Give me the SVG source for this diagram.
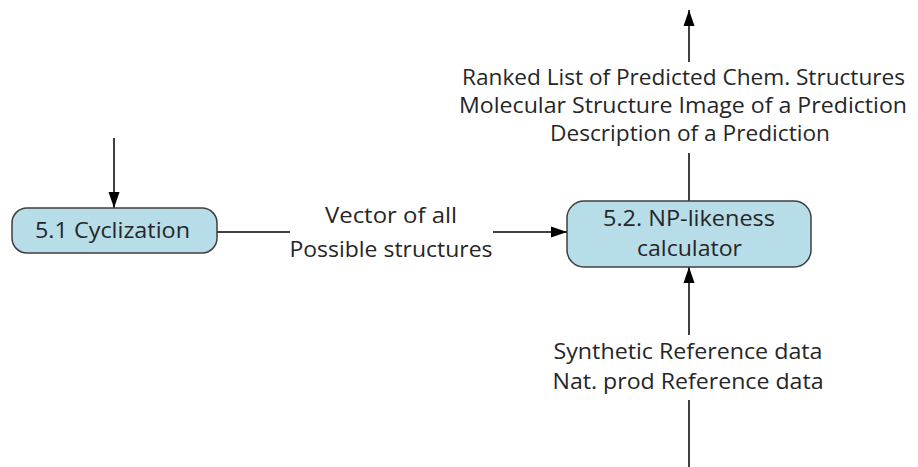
<svg xmlns="http://www.w3.org/2000/svg" width="918" height="467" viewBox="0 0 918 467">
<style>
.node{fill:#b7dde8;stroke:#3f3f3f;stroke-width:1.5}
.t{font-family:"Open Sans","Liberation Sans",Arial,sans-serif;font-size:22px;fill:#262626;text-anchor:middle}
.c{stroke:#000;stroke-width:1.5;fill:none;marker-end:url(#ah)}
.bg{fill:#fff}
</style>
<defs>
<marker id="ah" markerUnits="userSpaceOnUse" markerWidth="16" markerHeight="12" refX="16" refY="6" orient="auto" viewBox="0 0 16 12">
<path d="M0,0.5 L16,6 L0,11.5 z" fill="#000"/>
</marker>
</defs>
<g id="connectors">
<line class="c" x1="114" y1="138" x2="114" y2="208"/>
<line class="c" x1="217" y1="232" x2="567" y2="232"/>
<line class="c" x1="689" y1="201" x2="689" y2="10"/>
<line class="c" x1="689" y1="467" x2="689" y2="267"/>
</g>
<g id="label-vector">
<rect class="bg" x="290" y="228" width="203" height="8"/>
<text class="t" x="391" y="223" textLength="132" lengthAdjust="spacingAndGlyphs">Vector of all</text>
<text class="t" x="391" y="257" textLength="203" lengthAdjust="spacingAndGlyphs">Possible structures</text>
</g>
<g id="label-output">
<rect class="bg" x="458" y="62" width="452" height="91"/>
<text class="t" x="683.5" y="85" textLength="443" lengthAdjust="spacingAndGlyphs">Ranked List of Predicted Chem. Structures</text>
<text class="t" x="683" y="113" textLength="448" lengthAdjust="spacingAndGlyphs">Molecular Structure Image of a Prediction</text>
<text class="t" x="690" y="141" textLength="280" lengthAdjust="spacingAndGlyphs">Description of a Prediction</text>
</g>
<g id="label-reference">
<rect class="bg" x="552" y="335" width="272" height="65"/>
<text class="t" x="688" y="359" textLength="269" lengthAdjust="spacingAndGlyphs">Synthetic Reference data</text>
<text class="t" x="688" y="389" textLength="271" lengthAdjust="spacingAndGlyphs">Nat. prod Reference data</text>
</g>
<g id="node-cyclization">
<rect class="node" x="12" y="208" width="205" height="45" rx="15" ry="15"/>
<text class="t" x="112.5" y="238" textLength="155" lengthAdjust="spacingAndGlyphs">5.1 Cyclization</text>
</g>
<g id="node-np">
<rect class="node" x="567" y="201" width="244" height="66" rx="17" ry="17"/>
<text class="t" x="689" y="226" textLength="172" lengthAdjust="spacingAndGlyphs">5.2. NP-likeness</text>
<text class="t" x="689.5" y="256" textLength="105" lengthAdjust="spacingAndGlyphs">calculator</text>
</g>
</svg>
